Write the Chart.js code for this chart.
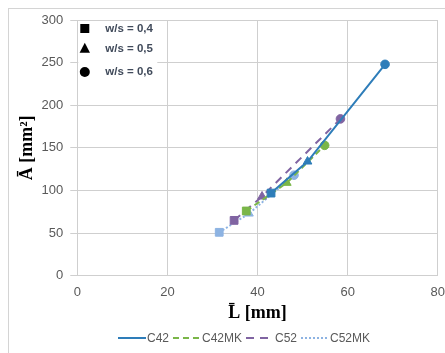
<!DOCTYPE html>
<html><head><meta charset="utf-8">
<script src="https://cdn.jsdelivr.net/npm/chart.js@4.4.1/dist/chart.umd.min.js"></script>
<style>
html,body{margin:0;padding:0;background:#fff;overflow:hidden}
#frame{position:absolute;left:8px;top:8px;width:460px;height:370px;border:1px solid #d4d4d4;box-sizing:border-box}
#wrap{position:absolute;left:0;top:0;width:445px;height:353px}
</style></head>
<body>
<div id="frame"></div>
<div id="wrap"><canvas id="c" width="445" height="353"></canvas></div>
<script>
// ---- data ----
const seriesNames = ['C42', 'C42MK', 'C52', 'C52MK'];
const c42L   = [43.0, 51.1, 68.3];
const c42A   = [97, 134, 248];
const c42mkL = [37.5, 46.5, 54.9];
const c42mkA = [76, 109, 153];
const c52L   = [34.8, 41.0, 58.4];
const c52A   = [65, 93, 184];
const c52mkL = [31.5, 38.1, 48.1];
const c52mkA = [51, 73, 118];
const wsLabels = ['w/s = 0,4', 'w/s = 0,5', 'w/s = 0,6'];
const xTicks = [0, 20, 40, 60, 80];
const yTicks = [0, 50, 100, 150, 200, 250, 300];

// ---- styles ----
const colors = ['#2E7DB9', '#7AB648', '#8064A2', '#8DB3E2'];
const dashes = [[], [6, 4], [8, 6], [2, 2]];
const markerStyles = ['rect', 'triangle', 'circle'];
const markerRadii = [5.5, 5, 4.3];

const xs = [c42L, c42mkL, c52L, c52mkL];
const ys = [c42A, c42mkA, c52A, c52mkA];

const datasets = seriesNames.map((name, i) => ({
  label: name,
  data: xs[i].map((x, j) => ({x: x, y: ys[i][j]})),
  showLine: true,
  borderColor: colors[i],
  backgroundColor: colors[i],
  borderWidth: 2,
  borderDash: dashes[i],
  pointStyle: markerStyles,
  pointRadius: markerRadii,
  pointBorderWidth: 1,
  pointBackgroundColor: colors[i],
  pointBorderColor: colors[i],
  tension: 0
}));

const gridColor = '#cfcfcf';
const tickFont = {family: "'Liberation Sans', Arial, sans-serif", size: 13};
const titleFont = {family: "'Liberation Serif', 'DejaVu Serif', serif", size: 18, weight: 'bold'};

function drawMarker(ctx, style, x, y, r) {
  ctx.beginPath();
  if (style === 'rect') {
    ctx.rect(x - r, y - r, 2 * r, 2 * r);
  } else if (style === 'triangle') {
    ctx.moveTo(x, y - r * 1.1);
    ctx.lineTo(x + r, y + r * 0.8);
    ctx.lineTo(x - r, y + r * 0.8);
    ctx.closePath();
  } else {
    ctx.arc(x, y, r, 0, Math.PI * 2);
  }
  ctx.fill();
}

const markerLegend = {
  id: 'markerLegend',
  beforeDatasetsDraw(chart) {
    const ctx = chart.ctx, a = chart.chartArea;
    ctx.save();
    ctx.fillStyle = '#ffffff';
    ctx.fillRect(a.left + 1, a.top + 2, 79, 73);
    const rows = [a.top + 8.5, a.top + 28.5, a.top + 52];
    ctx.fillStyle = '#000000';
    drawMarker(ctx, markerStyles[0], a.left + 7.5, rows[0], 4.5);
    drawMarker(ctx, markerStyles[1], a.left + 7.5, rows[1], 5.2);
    drawMarker(ctx, markerStyles[2], a.left + 7.5, rows[2], 5);
    ctx.fillStyle = '#414b5b';
    ctx.font = "bold 11.5px 'Liberation Sans', Arial, sans-serif";
    ctx.textBaseline = 'middle';
    ctx.textAlign = 'left';
    wsLabels.forEach((t, i) => ctx.fillText(t, a.left + 28, rows[i]));
    ctx.restore();
  }
};

const bottomLegend = {
  id: 'bottomLegend',
  afterDraw(chart) {
    const ctx = chart.ctx;
    ctx.save();
    ctx.font = "12px 'Liberation Sans', Arial, sans-serif";
    ctx.textBaseline = 'middle';
    ctx.textAlign = 'left';
    const lineW = 28, gapT = 1, gapI = 4;
    const widths = seriesNames.map(n => ctx.measureText(n).width);
    let total = widths.reduce((s, w) => s + w + lineW + gapT, 0) + gapI * (seriesNames.length - 1);
    const centerX = 244, y = 338;
    let x = centerX - total / 2;
    seriesNames.forEach((n, i) => {
      ctx.strokeStyle = colors[i];
      ctx.lineWidth = 2;
      ctx.setLineDash(dashes[i]);
      ctx.beginPath();
      ctx.moveTo(x, y);
      ctx.lineTo(x + lineW, y);
      ctx.stroke();
      ctx.setLineDash([]);
      ctx.fillStyle = '#595959';
      ctx.fillText(n, x + lineW + gapT, y + 0.5);
      x += lineW + gapT + widths[i] + gapI;
    });
    ctx.restore();
  }
};

new Chart(document.getElementById('c'), {
  type: 'scatter',
  data: {datasets: datasets},
  plugins: [markerLegend, bottomLegend],
  options: {
    responsive: false,
    animation: false,
    devicePixelRatio: 1,
    layout: {padding: {left: 17, right: 0, top: 20, bottom: 29}},
    plugins: {legend: {display: false}, tooltip: {enabled: false}},
    scales: {
      x: {
        type: 'linear', min: xTicks[0], max: xTicks[xTicks.length - 1],
        afterBuildTicks: s => { s.ticks = xTicks.map(v => ({value: v})); },
        grid: {color: gridColor, drawTicks: true, tickLength: 9, tickColor: 'rgba(0,0,0,0)'},
        border: {color: gridColor},
        ticks: {font: tickFont, color: '#595959', padding: 0},
        title: {display: true, text: 'L\u0304 [mm]', font: titleFont, color: '#000', padding: {top: 2, bottom: 0}}
      },
      y: {
        type: 'linear', min: yTicks[0], max: yTicks[yTicks.length - 1],
        afterBuildTicks: s => { s.ticks = yTicks.map(v => ({value: v})); },
        grid: {color: gridColor, tickLength: 7, tickColor: gridColor},
        border: {color: gridColor},
        ticks: {font: tickFont, color: '#595959', padding: 7},
        title: {display: true, text: 'Ā [mm²]', font: titleFont, color: '#000', padding: {top: 0, bottom: -4}}
      }
    }
  }
});
</script>
</body></html>
